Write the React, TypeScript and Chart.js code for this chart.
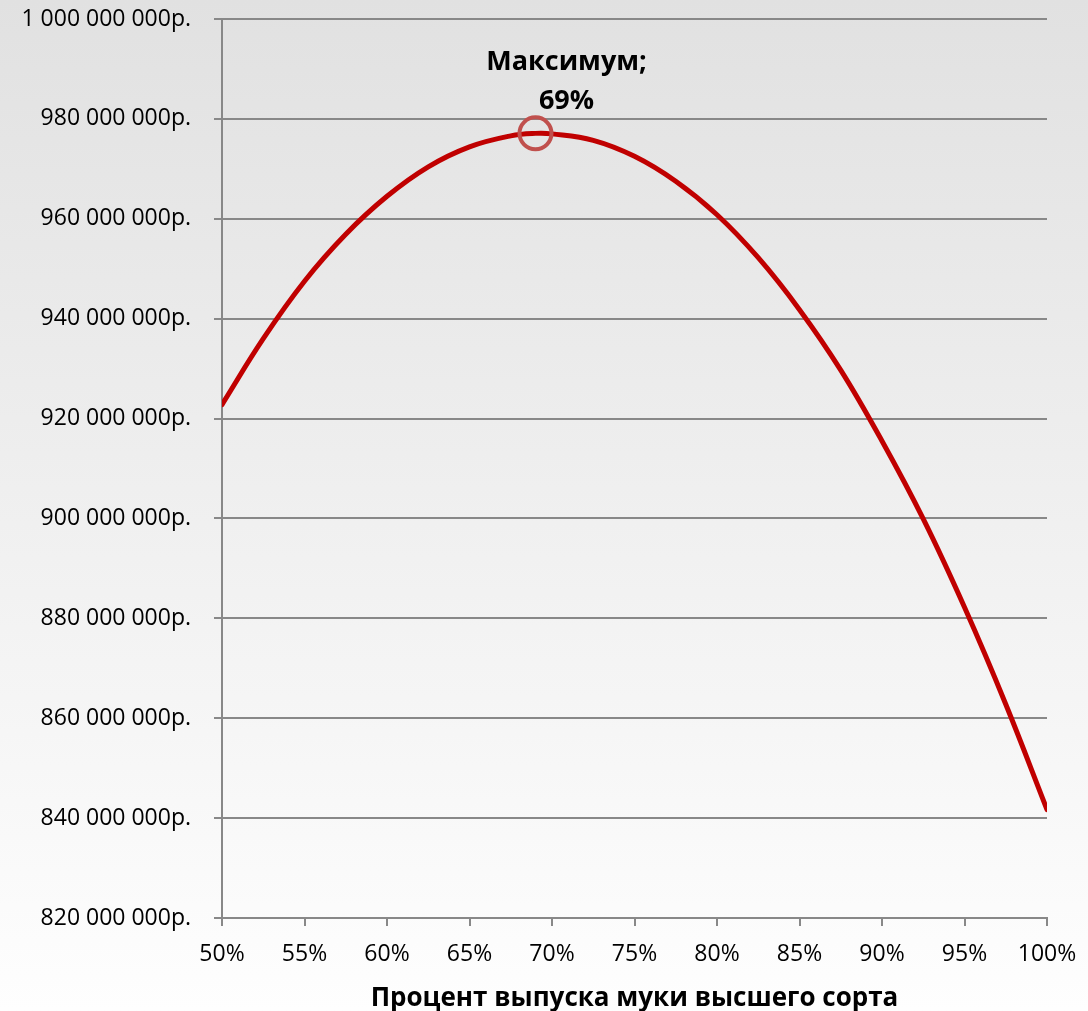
import React, { useEffect, useRef } from "react";
import { Chart, registerables } from "chart.js";

Chart.register(...registerables);

// Share of premium flour output, %
const outputPercent = [50, 52.5, 55, 57.5, 60, 62.5, 65, 67.5, 69, 70, 72.5, 75, 77.5, 80, 82.5, 85, 87.5, 90, 92.5, 95, 97.5, 100];
// Revenue, roubles
const revenue = [
  922_800_000, 936_000_000, 947_500_000, 956_900_000, 964_500_000, 970_400_000,
  974_400_000, 976_600_000, 977_100_000, 977_000_000, 975_700_000, 972_500_000,
  967_500_000, 960_800_000, 952_200_000, 941_800_000, 929_700_000, 915_500_000,
  899_900_000, 882_200_000, 862_800_000, 841_700_000,
];

const xMin = 50;
const xMax = 100;
const xStep = 5;
const yMin = 820_000_000;
const yMax = 1_000_000_000;
const yStep = 20_000_000;

const xTitle = "Процент выпуска муки высшего сорта";
const maxLabel = "Максимум;";

const FONT = "'Open Sans', sans-serif";
const AXIS_GRAY = "#888888";

function formatRub(v: number): string {
  return Math.round(v).toString().replace(/\B(?=(\d{3})+(?!\d))/g, " ") + "р.";
}

// Circles the highest point of the curve and labels it
const maxMarker = {
  id: "maxMarker",
  afterDatasetsDraw(chart: any) {
    let best = 0;
    for (let i = 1; i < revenue.length; i++) if (revenue[i] > revenue[best]) best = i;
    const xs = chart.scales.x;
    const ys = chart.scales.y;
    const px = xs.getPixelForValue(outputPercent[best]);
    const py = ys.getPixelForValue(revenue[best]);
    const ctx = chart.ctx;
    ctx.save();
    ctx.beginPath();
    ctx.arc(px, py, 16, 0, Math.PI * 2);
    ctx.strokeStyle = "#c0504d";
    ctx.lineWidth = 4;
    ctx.stroke();
    ctx.fillStyle = "#000";
    ctx.font = `bold 27px ${FONT}`;
    ctx.textAlign = "center";
    ctx.textBaseline = "middle";
    ctx.fillText(maxLabel, px + 31, py - 71);
    ctx.fillText(`${outputPercent[best]}%`, px + 31, py - 32);
    ctx.restore();
  },
};

export default function App() {
  const canvasRef = useRef<HTMLCanvasElement | null>(null);

  useEffect(() => {
    if (!canvasRef.current) return;
    const chart = new Chart(canvasRef.current, {
      type: "line",
      data: {
        datasets: [
          {
            data: outputPercent.map((x, i) => ({ x, y: revenue[i] })),
            borderColor: "#c00000",
            borderWidth: 5,
            borderCapStyle: "round",
            pointRadius: 0,
            tension: 0.4,
            fill: false,
          },
        ],
      },
      options: {
        responsive: true,
        maintainAspectRatio: false,
        animation: false,
        layout: { padding: { left: 0, top: 19, right: 41, bottom: 0 } },
        plugins: { legend: { display: false }, tooltip: { enabled: false } },
        scales: {
          x: {
            type: "linear",
            min: xMin,
            max: xMax,
            afterFit: (s: any) => {
              s.height = 93;
              s.paddingLeft = 0;
              s.paddingRight = 0;
            },
            ticks: {
              stepSize: xStep,
              color: "#000",
              padding: 15,
              font: { family: FONT, size: 23 },
              callback: (v: any) => `${v}%`,
            },
            grid: { drawOnChartArea: false, drawTicks: true, tickLength: 8, color: AXIS_GRAY, lineWidth: 2 },
            border: { display: true, color: AXIS_GRAY, width: 2 },
            title: {
              display: true,
              text: xTitle,
              color: "#000",
              font: { family: FONT, size: 26, weight: "bold" },
              padding: { top: 0, bottom: -3 },
            },
          },
          y: {
            min: yMin,
            max: yMax,
            afterFit: (s: any) => {
              s.width = 222;
              s.paddingTop = 0;
              s.paddingBottom = 0;
            },
            ticks: {
              stepSize: yStep,
              color: "#000",
              padding: 23,
              font: { family: FONT, size: 23 },
              callback: (v: any) => formatRub(Number(v)),
            },
            grid: { drawTicks: true, tickLength: 8, color: AXIS_GRAY, lineWidth: 2 },
            border: { display: true, color: AXIS_GRAY, width: 2 },
          },
        },
      },
      plugins: [maxMarker],
    } as any);
    return () => chart.destroy();
  }, []);

  return (
    <div
      style={{
        position: "absolute",
        left: 0,
        top: 0,
        width: 1088,
        height: 1011,
        background: "linear-gradient(to bottom, #e1e1e1 0%, #fefefe 100%)",
      }}
    >
      <canvas ref={canvasRef} />
    </div>
  );
}
